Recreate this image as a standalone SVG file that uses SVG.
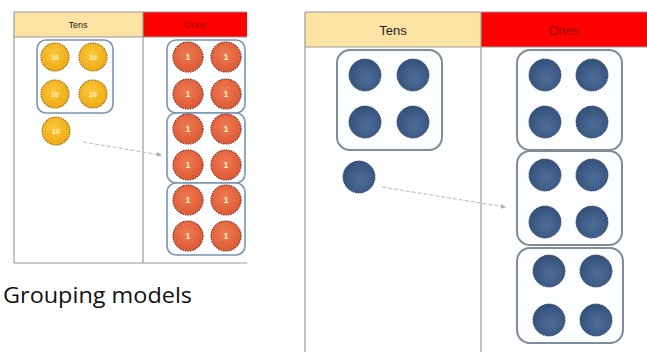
<svg xmlns="http://www.w3.org/2000/svg" width="647" height="352" viewBox="0 0 647 352">
  <style>
    .rule { stroke: #9a9a9a; stroke-width: 1.2; fill: none; }
    .box { fill: #fbfdff; stroke: #7b94ad; stroke-width: 1.6; }
    .boxR { fill: #fbfdff; stroke: #7f8c99; stroke-width: 2; }
    .ten { fill: url(#gTen); stroke: #9a7420; stroke-width: 1.2; stroke-dasharray: 1.5 1; }
    .one { fill: url(#gOne); stroke: #823220; stroke-width: 1.2; stroke-dasharray: 1.5 1; }
    .dot { fill: url(#gDot); stroke: #2e4262; stroke-width: 1; stroke-dasharray: 1.5 1; }
    .lblS { font-family: "Liberation Sans", Arial, sans-serif; font-size: 7px; font-weight: bold; fill: #fff4c0; text-anchor: middle; }
    .lblO { font-family: "Liberation Sans", Arial, sans-serif; font-size: 9px; font-weight: bold; fill: #fff0c0; text-anchor: middle; }
    .hd { font-family: "Liberation Sans", Arial, sans-serif; text-anchor: middle; }
    .move { stroke: #b4b8bc; stroke-width: 1; fill: none; stroke-dasharray: 4 2; }
  </style>
  <defs>
    <radialGradient id="gTen" cx="0.45" cy="0.4" r="0.6">
      <stop offset="0" stop-color="#fcc93a"/>
      <stop offset="1" stop-color="#eea915"/>
    </radialGradient>
    <radialGradient id="gOne" cx="0.45" cy="0.4" r="0.6">
      <stop offset="0" stop-color="#f07a52"/>
      <stop offset="1" stop-color="#dc5a35"/>
    </radialGradient>
    <radialGradient id="gDot" cx="0.55" cy="0.6" r="0.6">
      <stop offset="0" stop-color="#4d6e99"/>
      <stop offset="1" stop-color="#34507a"/>
    </radialGradient>
    <marker id="tip" viewBox="0 0 6 6" refX="5" refY="3" markerWidth="5" markerHeight="5" orient="auto">
      <path d="M0,0 L6,3 L0,6 z" fill="#a8acb0"/>
    </marker>
  </defs>

  <!-- small place-value chart -->
  <g id="chart-small">
    <rect x="14" y="12" width="129" height="25" fill="#fde3a3"/>
    <rect x="143" y="12" width="104" height="25" fill="#ff0000"/>
    <text class="hd" x="78" y="28" font-size="9" fill="#222">Tens</text>
    <text class="hd" x="195" y="28" font-size="9" fill="#a00000">Ones</text>
    <path class="rule" d="M14,12 H247 M14,37 H247 M14,12 V263 M143,12 V263 M14,263 H247"/>
  </g>

  <g id="tens-group-small">
    <rect class="box" x="37" y="40" width="76" height="73" rx="9"/>
    <circle class="ten" cx="55" cy="57" r="14"/><text class="lblS" x="55" y="59.5">10</text>
    <circle class="ten" cx="93" cy="57" r="14"/><text class="lblS" x="93" y="59.5">10</text>
    <circle class="ten" cx="55" cy="94" r="14"/><text class="lblS" x="55" y="96.5">10</text>
    <circle class="ten" cx="93" cy="94" r="14"/><text class="lblS" x="93" y="96.5">10</text>
  </g>
  <g id="ten-single-small">
    <circle class="ten" cx="56" cy="131" r="14"/><text class="lblS" x="56" y="133.5">10</text>
  </g>

  <g id="ones-group-small-1">
    <rect class="box" x="167" y="40" width="78" height="73" rx="9"/>
    <circle class="one" cx="188" cy="57" r="15"/><text class="lblO" x="188" y="60">1</text>
    <circle class="one" cx="226" cy="57" r="15"/><text class="lblO" x="226" y="60">1</text>
    <circle class="one" cx="188" cy="94" r="15"/><text class="lblO" x="188" y="97">1</text>
    <circle class="one" cx="226" cy="94" r="15"/><text class="lblO" x="226" y="97">1</text>
  </g>
  <g id="ones-group-small-2">
    <rect class="box" x="167" y="113" width="78" height="70" rx="9"/>
    <circle class="one" cx="188" cy="129" r="15"/><text class="lblO" x="188" y="132">1</text>
    <circle class="one" cx="226" cy="129" r="15"/><text class="lblO" x="226" y="132">1</text>
    <circle class="one" cx="188" cy="165" r="15"/><text class="lblO" x="188" y="168">1</text>
    <circle class="one" cx="226" cy="165" r="15"/><text class="lblO" x="226" y="168">1</text>
  </g>
  <g id="ones-group-small-3">
    <rect class="box" x="167" y="183" width="78" height="72" rx="9"/>
    <circle class="one" cx="188" cy="200" r="15"/><text class="lblO" x="188" y="203">1</text>
    <circle class="one" cx="226" cy="200" r="15"/><text class="lblO" x="226" y="203">1</text>
    <circle class="one" cx="188" cy="236" r="15"/><text class="lblO" x="188" y="239">1</text>
    <circle class="one" cx="226" cy="236" r="15"/><text class="lblO" x="226" y="239">1</text>
  </g>

  <!-- large place-value chart -->
  <g id="chart-large">
    <rect x="305" y="12" width="176" height="35" fill="#fde3a3"/>
    <rect x="481" y="12" width="166" height="35" fill="#ff0000"/>
    <text class="hd" x="393" y="35" font-size="13" fill="#222">Tens</text>
    <text class="hd" x="564" y="35" font-size="13" fill="#a00000">Ones</text>
    <path class="rule" d="M305,12 H647 M305,47 H647 M305,12 V352 M481,12 V352" stroke-width="1.6"/>
  </g>

  <g id="tens-group-large">
    <rect class="boxR" x="337" y="50" width="105" height="100" rx="13"/>
    <circle class="dot" cx="365" cy="75" r="16"/>
    <circle class="dot" cx="413" cy="75" r="16"/>
    <circle class="dot" cx="365" cy="122" r="16"/>
    <circle class="dot" cx="413" cy="122" r="16"/>
  </g>
  <g id="ten-single-large">
    <circle class="dot" cx="359" cy="177" r="16"/>
  </g>

  <g id="ones-group-large-1">
    <rect class="boxR" x="517" y="50" width="105" height="100" rx="13"/>
    <circle class="dot" cx="545" cy="75" r="16"/>
    <circle class="dot" cx="592" cy="75" r="16"/>
    <circle class="dot" cx="545" cy="122" r="16"/>
    <circle class="dot" cx="592" cy="122" r="16"/>
  </g>
  <g id="ones-group-large-2">
    <rect class="boxR" x="517" y="151" width="105" height="94" rx="13"/>
    <circle class="dot" cx="545" cy="175" r="16"/>
    <circle class="dot" cx="592" cy="175" r="16"/>
    <circle class="dot" cx="545" cy="222" r="16"/>
    <circle class="dot" cx="592" cy="222" r="16"/>
  </g>
  <g id="ones-group-large-3">
    <rect class="boxR" x="517" y="248" width="106" height="95" rx="13"/>
    <circle class="dot" cx="549" cy="271" r="16"/>
    <circle class="dot" cx="596" cy="271" r="16"/>
    <circle class="dot" cx="549" cy="320" r="16"/>
    <circle class="dot" cx="596" cy="320" r="16"/>
  </g>

  <!-- regrouping arrows -->
  <g id="connectors">
    <path class="move" d="M83,142 L161,155" marker-end="url(#tip)"/>
    <path class="move" d="M382,187 L505,207" stroke-dasharray="none" marker-end="url(#tip)"/>
  </g>

  <text x="3" y="303" font-family="'Open Sans', 'Liberation Sans', sans-serif" font-size="21" fill="#111" textLength="189" lengthAdjust="spacingAndGlyphs">Grouping models</text>
</svg>
